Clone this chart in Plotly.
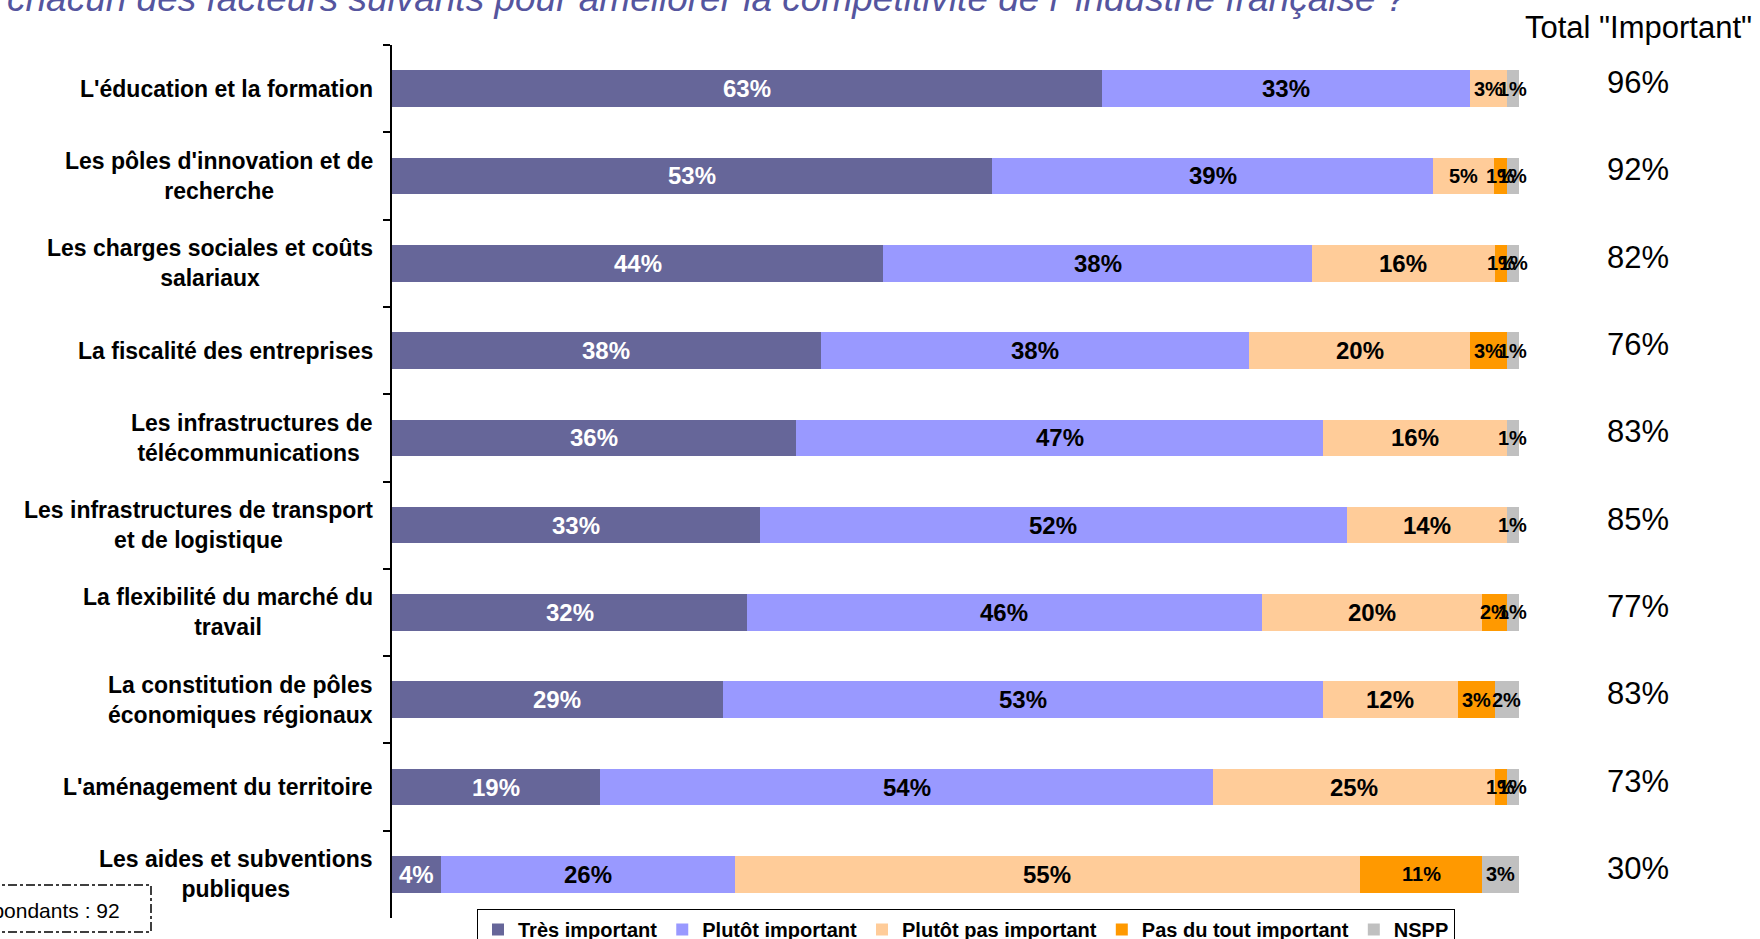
import plotly.graph_objects as go

categories = [
    "L'éducation et la formation",
    "Les pôles d'innovation et de<br>recherche",
    "Les charges sociales et coûts<br>salariaux",
    "La fiscalité des entreprises",
    "Les infrastructures de<br>télécommunications ",
    "Les infrastructures de transport<br>et de logistique",
    "La flexibilité du marché du<br>travail",
    "La constitution de pôles<br>économiques régionaux",
    "L'aménagement du territoire",
    "Les aides et subventions<br>publiques",
]

series_names = ["Très important", "Plutôt important", "Plutôt pas important",
                "Pas du tout important", "NSPP"]

tres_important = [63.04, 53.26, 43.6, 38.04, 35.87, 32.61, 31.52, 29.35, 18.48, 4.35]
plutot_important = [32.61, 39.13, 38.0, 38.04, 46.74, 52.17, 45.65, 53.26, 54.35, 26.09]
plutot_pas_important = [3.26, 5.43, 16.3, 19.57, 16.30, 14.13, 19.57, 11.96, 25.00, 55.43]
pas_du_tout_important = [0, 1.09, 1.07, 3.26, 0, 0, 2.17, 3.26, 1.09, 10.87]
nspp = [1.09, 1.09, 1.03, 1.09, 1.09, 1.09, 1.09, 2.17, 1.09, 3.26]

tres_labels = ["63%", "53%", "44%", "38%", "36%", "33%", "32%", "29%", "19%", "4%"]
plutot_labels = ["33%", "39%", "38%", "38%", "47%", "52%", "46%", "53%", "54%", "26%"]
plutot_pas_labels = ["3%", "5%", "16%", "20%", "16%", "14%", "20%", "12%", "25%", "55%"]
pas_du_tout_labels = ["", "1%", "1%", "3%", "", "", "2%", "3%", "1%", "11%"]
nspp_labels = ["1%", "1%", "1%", "1%", "1%", "1%", "1%", "2%", "1%", "3%"]

total_important = ["96%", "92%", "82%", "76%", "83%", "85%", "77%", "83%", "73%", "30%"]

colors = ["#666699", "#9999FF", "#FFCC99", "#FF9900", "#C0C0C0"]
text_colors = ["white", "black", "black", "black", "black"]

values = [tres_important, plutot_important, plutot_pas_important, pas_du_tout_important, nspp]
labels = [tres_labels, plutot_labels, plutot_pas_labels, pas_du_tout_labels, nspp_labels]

FONT = "Liberation Sans, Arial, sans-serif"

L, R, T, B = 392, 241, 45, 21
W, H = 1760, 939
PW = W - L - R
PH = H - T - B


def px_x(px):
    return (px - L) / PW


def px_y(py):
    return (H - B - py) / PH


fig = go.Figure()
for i, (name, vals) in enumerate(zip(series_names, values)):
    fig.add_trace(go.Bar(
        name=name, y=categories, x=vals, orientation="h",
        marker=dict(color=colors[i], line=dict(width=0)),
        width=0.42, hoverinfo="skip",
    ))

annotations = []

# segment labels placed at the centre of each stacked segment (data coordinates)
for i, (vals, lbls) in enumerate(zip(values, labels)):
    for j, (cat, v, lbl) in enumerate(zip(categories, vals, lbls)):
        if not lbl:
            continue
        start = sum(values[k][j] for k in range(i))
        if i in (0, 1):
            size = 24
        elif i == 2:
            size = 24 if v >= 10 else 20
        else:
            size = 20
        annotations.append(dict(
            x=start + v / 2, xref="x", y=cat, yref="y",
            xanchor="center", yanchor="middle", text="<b>" + lbl + "</b>",
            showarrow=False, font=dict(family=FONT, size=size, color=text_colors[i]),
        ))

for cat in categories:
    annotations.append(dict(
        x=px_x(375), xref="paper", y=cat, yref="y", xanchor="right", yanchor="middle",
        text="<b>" + cat + "</b>", align="center", showarrow=False,
        font=dict(family=FONT, size=23, color="black"),
    ))
for cat, tot in zip(categories, total_important):
    annotations.append(dict(
        x=px_x(1638), xref="paper", y=cat, yref="y", xanchor="center", yanchor="middle",
        yshift=6, text=tot, showarrow=False,
        font=dict(family=FONT, size=31, color="black"),
    ))
annotations.append(dict(
    x=px_x(1638), xref="paper", y=px_y(27), yref="paper", xanchor="center", yanchor="middle",
    text='Total "Important"', showarrow=False,
    font=dict(family=FONT, size=31, color="black"),
))
annotations.append(dict(
    x=px_x(5), xref="paper", y=px_y(-1), yref="paper", xanchor="left", yanchor="middle",
    text="<i>chacun des facteurs suivants pour améliorer la compétitivité de l' industrie française ?</i>",
    showarrow=False, font=dict(family=FONT, size=37, color="#55559E"),
))
annotations.append(dict(
    x=px_x(122), xref="paper", y=px_y(910), yref="paper", xanchor="right", yanchor="middle",
    text="Nombre de répondants : 92", showarrow=False,
    font=dict(family=FONT, size=21, color="black"),
))

shapes = [dict(
    type="rect", xref="paper", yref="paper",
    x0=px_x(-10), x1=px_x(151), y0=px_y(932), y1=px_y(885),
    line=dict(color="black", width=1.5, dash="dashdot"), fillcolor="rgba(0,0,0,0)",
)]

fig.update_layout(
    width=W, height=H,
    margin=dict(l=L, r=R, t=T, b=B, pad=0, autoexpand=False),
    barmode="stack",
    plot_bgcolor="white", paper_bgcolor="white",
    showlegend=True,
    legend=dict(
        orientation="h", x=px_x(966), xanchor="center", y=px_y(909), yanchor="top",
        bordercolor="black", borderwidth=1, bgcolor="white",
        font=dict(family=FONT, size=20, color="black", weight="bold"),
        traceorder="normal", itemclick=False, itemdoubleclick=False,
        tracegroupgap=0, itemwidth=30,
    ),
    xaxis=dict(range=[0, 100], visible=False, fixedrange=True),
    yaxis=dict(
        autorange="reversed", showline=True, linecolor="black", linewidth=2,
        ticks="outside", tickson="boundaries", ticklen=7, tickcolor="black", tickwidth=2,
        showticklabels=False, showgrid=False, zeroline=False, fixedrange=True,
    ),
    annotations=annotations,
    shapes=shapes,
    font=dict(family=FONT),
)

fig.write_html(
    "out.html",
    config={"displayModeBar": False},
    post_script="document.body.style.margin='0px';document.body.style.overflow='hidden';",
)
